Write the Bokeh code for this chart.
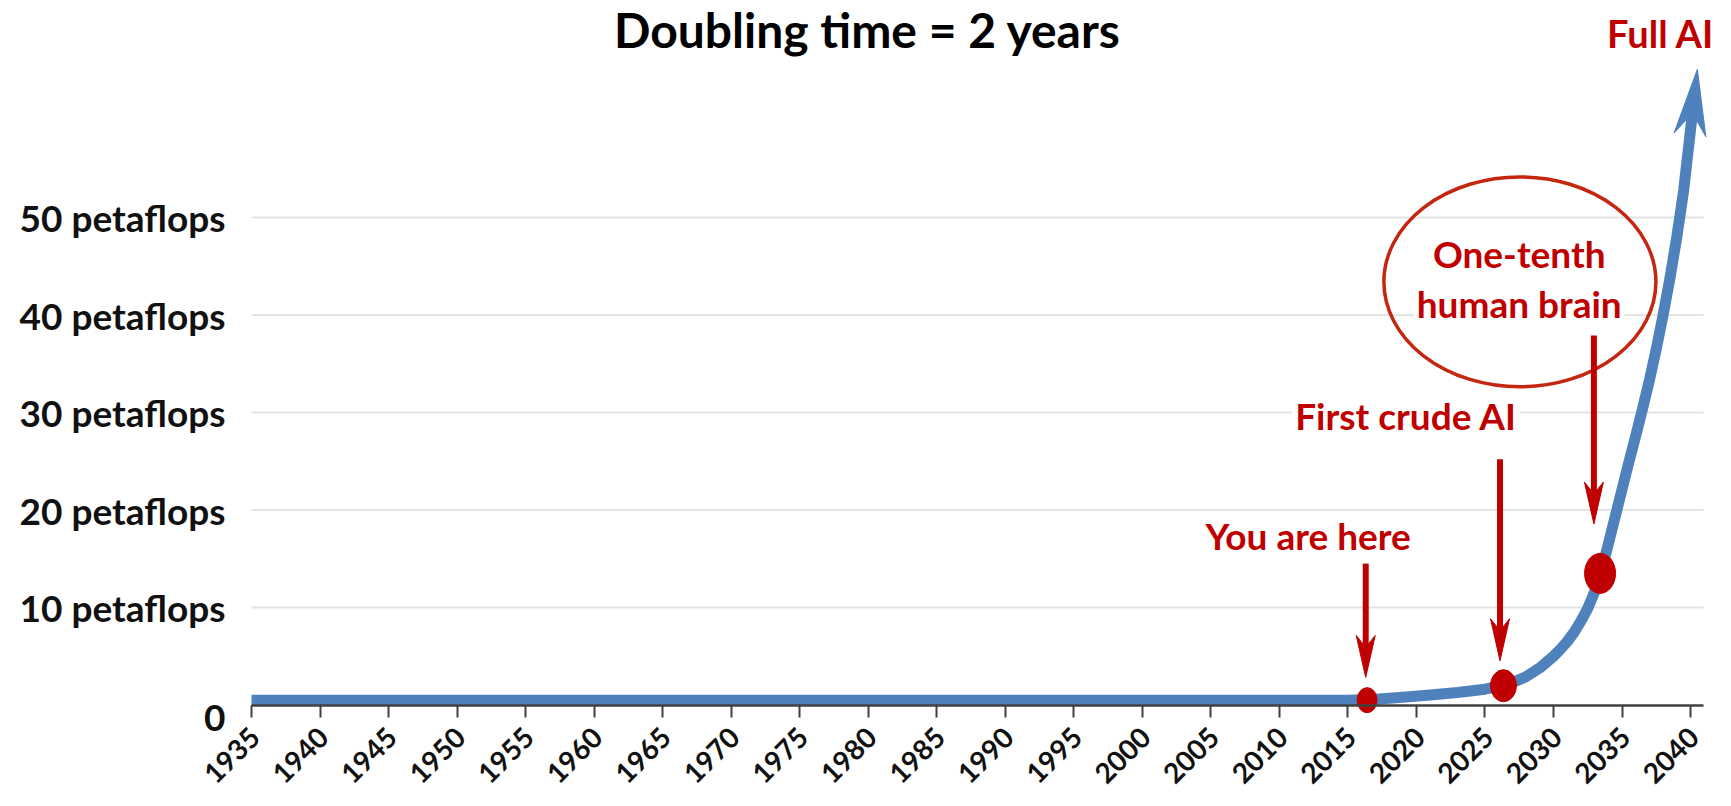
import math
from bokeh.plotting import figure
from bokeh.models import Label, FixedTicker
from bokeh.embed import file_html
from bokeh.resources import INLINE

# ---------------- data ----------------
curve_years = [1935, 1940, 1945, 1950, 1955, 1960, 1965, 1970, 1975, 1980, 1985,
               1990, 1995, 2000, 2005, 2010, 2015, 2017, 2019, 2021, 2023, 2025,
               2026, 2027, 2028, 2029, 2030, 2030.5, 2031, 2031.5, 2032, 2032.5,
               2033, 2033.5, 2034, 2034.5, 2035, 2035.5, 2036, 2036.5, 2037,
               2037.5, 2038, 2038.5, 2039, 2039.5, 2040.5]
curve_pflops = [0.5, 0.5, 0.5, 0.5, 0.5, 0.5, 0.5, 0.5, 0.5, 0.5, 0.5,
                0.5, 0.5, 0.5, 0.5, 0.5, 0.5, 0.58, 0.8, 1.02, 1.28, 1.62,
                1.9, 2.3, 2.9, 3.8, 5.0, 5.7, 6.5, 7.45, 8.6, 9.9,
                11.6, 13.8, 16.5, 19.3, 22.1, 24.9, 27.6, 30.4, 33.3,
                36.5, 40.0, 43.8, 48.0, 52.8, 65.2]

milestone_names = ["You are here", "First crude AI", "One-tenth human brain"]
milestone_years = [2016.4, 2026.35, 2033.4]
milestone_pflops = [0.5, 1.98, 13.5]

arrow_years = [2016.3, 2026.1, 2032.95]
arrow_from = [14.5, 25.2, 37.9]
arrow_to = [2.83, 4.54, 18.56]

x_tick_years = [1935, 1940, 1945, 1950, 1955, 1960, 1965, 1970, 1975, 1980, 1985,
                1990, 1995, 2000, 2005, 2010, 2015, 2020, 2025, 2030, 2035, 2040]
y_ticks = [0, 10, 20, 30, 40, 50]
y_tick_labels = ["0", "10 petaflops", "20 petaflops", "30 petaflops",
                 "40 petaflops", "50 petaflops"]

title_text = "Doubling time = 2 years"
full_ai_text = "Full AI"

# ---------------- layout ----------------
W, H = 1715, 790
AXIS_LEFT_PX, AXIS_ZERO_PX = 251, 704.5      # where 1935 / 0 sit in the canvas
PX_PER_YEAR, PX_PER_UNIT = 13.705, 9.75
X_AXIS_END = 2040.95                           # axis line & grid end

X0 = 1935 - AXIS_LEFT_PX / PX_PER_YEAR
X1 = 1935 + (W - AXIS_LEFT_PX) / PX_PER_YEAR
Y0 = -(H - AXIS_ZERO_PX) / PX_PER_UNIT
Y1 = AXIS_ZERO_PX / PX_PER_UNIT
SX = W / (X1 - X0)
SY = H / (Y1 - Y0)

BLUE = "#4f81bd"
RED = "#c00000"
ELLIPSE_RED = "#c4260f"
INK = "#111111"
FONT = "Lato"

p = figure(width=W, height=H, x_range=(X0, X1), y_range=(Y0, Y1),
           output_backend="svg", toolbar_location=None,
           min_border_left=0, min_border_right=0,
           min_border_top=0, min_border_bottom=0)
p.outline_line_color = None
p.background_fill_color = "white"
p.border_fill_color = "white"
p.xgrid.visible = False
p.ygrid.visible = False

# horizontal grid lines (drawn between the axis ends)
grid_y = y_ticks[1:]
p.segment(x0=[x_tick_years[0]] * len(grid_y), x1=[X_AXIS_END] * len(grid_y),
          y0=grid_y, y1=grid_y, line_color="#e3e3e3", line_width=2)

# x axis, fixed at y = 0 inside the canvas
xa = p.xaxis[0]
xa.fixed_location = 0
xa.bounds = (x_tick_years[0], X_AXIS_END)
xa.ticker = FixedTicker(ticks=x_tick_years)
xa.major_label_overrides = {t: "" for t in x_tick_years}
xa.major_label_text_color = None
xa.minor_tick_line_color = None
xa.axis_line_color = "#404040"
xa.axis_line_width = 2.5
xa.major_tick_line_color = "#404040"
xa.major_tick_line_width = 2
xa.major_tick_in = 0
xa.major_tick_out = 12

for yr in x_tick_years:
    p.add_layout(Label(x=yr, y=0, text=str(yr), angle=math.pi / 4,
                       x_offset=3, y_offset=-27,
                       text_align="right", text_baseline="middle",
                       text_font=FONT, text_font_style="bold",
                       text_font_size="28px", text_color=INK))

# y axis, fixed at x = 1935
ya = p.yaxis[0]
ya.fixed_location = x_tick_years[0]
ya.ticker = FixedTicker(ticks=y_ticks[1:])
ya.major_label_overrides = {t: lab for t, lab in zip(y_ticks[1:], y_tick_labels[1:])}
ya.axis_line_color = None
ya.major_tick_line_color = None
ya.major_tick_out = 0
ya.major_tick_in = 0
ya.minor_tick_line_color = None
ya.major_label_standoff = 26
ya.major_label_text_font = FONT
ya.major_label_text_font_style = "bold"
ya.major_label_text_font_size = "37px"
ya.major_label_text_color = INK

p.add_layout(Label(x=x_tick_years[0], y=y_ticks[0], text=y_tick_labels[0],
                   x_offset=-26, y_offset=-13,
                   text_align="right", text_baseline="middle",
                   text_font=FONT, text_font_style="bold", text_font_size="37px",
                   text_color=INK))


def vee(tip_x, tip_y, from_x, from_y, length, half_w, notch):
    tx, ty = tip_x * SX, tip_y * SY
    fx, fy = from_x * SX, from_y * SY
    dx, dy = tx - fx, ty - fy
    n = math.hypot(dx, dy)
    ux, uy = dx / n, dy / n
    px, py = -uy, ux
    bx, by = tx - length * ux, ty - length * uy
    pts = [(tx, ty), (bx + half_w * px, by + half_w * py),
           (tx - notch * ux, ty - notch * uy), (bx - half_w * px, by - half_w * py)]
    return [a / SX for a, _ in pts], [b / SY for _, b in pts]


# blue curve with arrow head
hx, hy = vee(curve_years[-1], curve_pflops[-1], curve_years[-2], curve_pflops[-2],
             66, 16, 44)
line_x = curve_years[:-1] + [hx[2]]
line_y = curve_pflops[:-1] + [hy[2]]
p.line(line_x, line_y, line_color=BLUE, line_width=11, line_cap="butt",
       line_join="round")
p.patch(hx, hy, fill_color=BLUE, line_color=BLUE, line_width=1)

# ellipse around the brain label
p.ellipse(x=[2027.55], y=[43.4], width=[19.85], height=[21.55],
          fill_color=None, line_color=ELLIPSE_RED, line_width=3.5)

# red arrows
for ax, a0, a1 in zip(arrow_years, arrow_from, arrow_to):
    xs, ys = vee(ax, a1, ax, a0, 42, 9.5, 30)
    p.line([ax, xs[2]], [a0, ys[2]], line_color=RED, line_width=6)
    p.patch(xs, ys, fill_color=RED, line_color=RED, line_width=1)

# milestone dots
dot_w = [20, 26, 31]
dot_h = [25, 32, 40]
p.ellipse(x=milestone_years, y=milestone_pflops, width=dot_w, height=dot_h,
          width_units="screen", height_units="screen",
          fill_color=RED, line_color=RED)


# texts: y is the text baseline; drawn with a "middle" anchor lifted by ~0.38 em
def lab(x, y, text, size, color=RED, bg=None, align="center"):
    kw = dict(x=x, y=y, text=text, text_align=align, text_baseline="middle",
              y_offset=round(0.38 * size),
              text_font=FONT, text_font_style="bold", text_font_size=f"{size}px",
              text_color=color)
    if bg:
        kw.update(background_fill_color=bg, padding=3)
    p.add_layout(Label(**kw))


brain_1, brain_2 = "One-tenth", "human brain"
lab(1979.95, 67.44, title_text, 48, color="#000000")
lab(1935 + (1714 - AXIS_LEFT_PX) / PX_PER_YEAR, 67.45, full_ai_text, 38, align="right")
lab(2027.5, 44.9, brain_1, 37)
lab(2027.5, 39.75, brain_2, 37, bg="white")
lab(2019.25, 28.3, milestone_names[1], 37, bg="white")
lab(2012.1, 16.0, milestone_names[0], 37)

open("out.html", "w").write(file_html(p, INLINE))
